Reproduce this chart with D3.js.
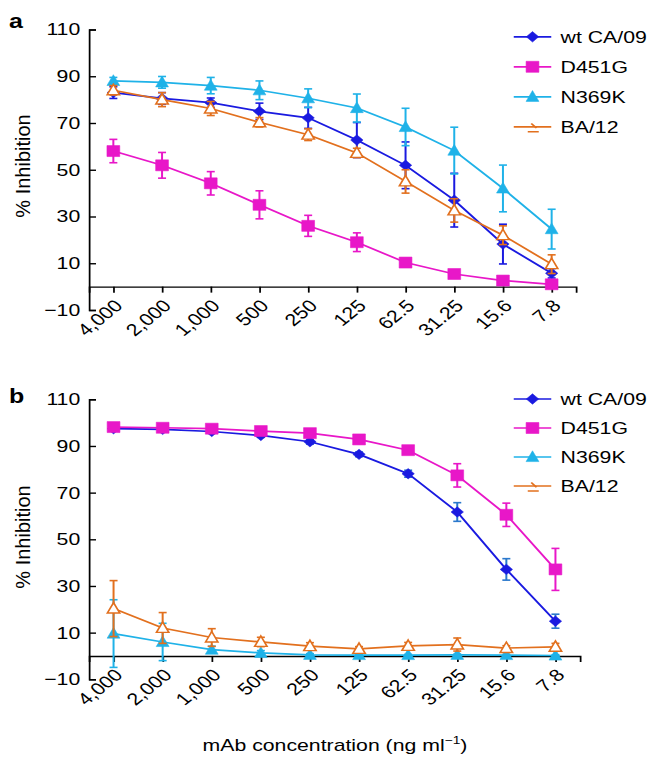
<!DOCTYPE html>
<html lang="en">

<head>
    <meta charset="UTF-8">
    <title>mAb inhibition</title>
    <style>
        body {
            margin: 0;
            background: #fff;
        }

        text {
            font-family: "Liberation Sans", Arial, Helvetica, sans-serif;
            fill: #000;
        }
    </style>
</head>

<body>
    <div id="chart"></div>
    <script src="https://d3js.org/d3.v7.min.js"></script>
    <script>
        // categories and legend
        const concentrations = ["4,000", "2,000", "1,000", "500", "250", "125", "62.5", "31.25", "15.6", "7.8"];
        const seriesNames = ["wt CA/09", "D451G", "N369K", "BA/12"];
        const yTicks = [-10, 10, 30, 50, 70, 90, 110];

        // panel a values (mean, error)
        const aWt = [83, 80.5, 78.7, 75, 72.2, 62.7, 51.9, 37, 18.2, 5.7];
        const aWtErr = [2.5, 2.5, 2, 3.5, 4.5, 7.5, 10, 11.5, 8.5, 2];
        const aD451G = [58, 51.9, 44.2, 35, 26, 19, 10.3, 5.4, 2.6, 1];
        const aD451GErr = [5, 5.5, 5, 6, 4.5, 4, 1, 1, 0.8, 0.5];
        const aN369K = [88, 87.4, 86, 84, 80.6, 76.4, 68.3, 58.2, 42, 24.6];
        const aN369KErr = [1.5, 2.5, 3.5, 4, 4, 6, 8, 10, 10, 8.5];
        const aBA12 = [84, 80, 76.2, 70.3, 65, 57.2, 45, 32.6, 22, 9.6];
        const aBA12Err = [2, 3, 3, 2, 2.5, 2, 5, 5, 4, 4];

        // panel b values (mean, error)
        const bWt = [97.4, 97.1, 96.2, 94.5, 91.8, 86.4, 78.1, 61.7, 37.1, 14.9];
        const bWtErr = [0.5, 0.5, 0.8, 0.8, 1, 1, 1.5, 4, 4.6, 3];
        const bD451G = [98.1, 97.8, 97.4, 96.4, 95.5, 92.8, 88.2, 77.4, 60.5, 37.1];
        const bD451GErr = [0.5, 0.5, 0.5, 0.5, 0.8, 1, 1, 5, 5, 9];
        const bN369K = [9.6, 6, 2.7, 1.3, 0.5, 0.4, 0.4, 0.5, 0.4, 0.2];
        const bN369KErr = [14.5, 8, 1.5, 1, 0.5, 0.3, 0.3, 0.3, 0.3, 0.3];
        const bBA12 = [20.3, 12, 7.9, 6, 4.2, 3, 4.3, 4.9, 3.4, 3.9];
        const bBA12Err = [12, 6.6, 3.8, 2, 1.5, 1, 1.5, 2.8, 1, 1.5];

        const colors = ["#1a1ae0", "#e817c8", "#1fb2e8", "#e2701e"];

        // the original figure is stretched horizontally, so draw in a narrower
        // box and let the viewBox widen it
        const SX = 1.25;
        const W = 649 / SX;
        const H = 760;

        const svg = d3.select("#chart")
            .append("svg")
            .attr("width", 649)
            .attr("height", H)
            .attr("viewBox", `0 0 ${W} ${H}`)
            .attr("preserveAspectRatio", "none");

        // marker shapes
        function diamond(s) {
            return `M0,${-s}L${s * 0.95},0L0,${s}L${-s * 0.95},0Z`;
        }
        function square(s) {
            return `M${-s * 0.93},${-s}H${s * 0.93}V${s}H${-s * 0.93}Z`;
        }
        function triangle(s) {
            return `M0,${-s * 1.15}L${s * 0.95},${s * 0.85}H${-s * 0.95}Z`;
        }
        const markers = [
            { path: diamond(5.2), fill: true },
            { path: square(5.5), fill: true },
            { path: triangle(5.4), fill: true },
            { path: triangle(5.2), fill: false }
        ];
        // the BA/12 legend glyph is a broken triangle in the original
        const brokenTriangle = "M-1,-3.4L3.2,1.2M-3.8,5H5";

        function drawPanel(p) {
            const x = d3.scalePoint()
                .domain(concentrations)
                .range([89 / SX, p.right / SX])
                .padding(0.5);

            const y = d3.scaleLinear()
                .domain([-10, 110])
                .range([p.bottom, p.top]);

            const g = svg.append("g");

            // y axis, ticks point inward
            const yAxis = g.append("g")
                .attr("transform", `translate(${89 / SX},0)`)
                .call(d3.axisLeft(y).tickValues(yTicks).tickSize(-5.6).tickPadding(7));
            yAxis.selectAll("path, line").attr("stroke", "#000").attr("stroke-width", 1.4);
            yAxis.selectAll("text")
                .attr("font-size", 17)
                .attr("font-family", "Liberation Sans, Arial, sans-serif");

            // x axis along zero
            const xAxis = g.append("g")
                .attr("transform", `translate(0,${y(0)})`)
                .call(d3.axisBottom(x).tickSize(6).tickSizeOuter(6));
            xAxis.selectAll("path, line").attr("stroke", "#000").attr("stroke-width", 1.4);
            xAxis.selectAll("text")
                .attr("font-size", 17)
                .attr("font-family", "Liberation Sans, Arial, sans-serif")
                .attr("text-anchor", "end")
                .attr("x", 0)
                .attr("y", 0)
                .attr("dy", "0.35em")
                .attr("transform", "translate(3.6,16) rotate(-45)");

            // panel letter
            g.append("text")
                .attr("x", 9 / SX)
                .attr("y", p.letterY)
                .attr("font-size", 20)
                .attr("font-weight", "bold")
                .text(p.letter);

            // y label
            g.append("text")
                .attr("transform", `translate(${23 / SX},${p.labelY}) rotate(-90) scale(1,${1 / SX})`)
                .attr("text-anchor", "middle")
                .attr("dy", "0.35em")
                .attr("font-size", 20)
                .text("% Inhibition");

            const line = d3.line()
                .x((d, i) => x(concentrations[i]))
                .y(d => y(d));

            p.series.forEach((vals, s) => {
                const errs = p.errors[s];
                const col = colors[s];
                const errCol = p.errColors[s] || col;
                const sg = g.append("g");

                // error bars
                const eb = sg.selectAll(".err")
                    .data(vals)
                    .enter()
                    .append("g")
                    .attr("stroke", errCol)
                    .attr("stroke-width", 1.6);
                eb.append("line")
                    .attr("x1", (d, i) => x(concentrations[i]))
                    .attr("x2", (d, i) => x(concentrations[i]))
                    .attr("y1", (d, i) => y(d - errs[i]))
                    .attr("y2", (d, i) => y(d + errs[i]));
                eb.append("line")
                    .attr("x1", (d, i) => x(concentrations[i]) - 3.2)
                    .attr("x2", (d, i) => x(concentrations[i]) + 3.2)
                    .attr("y1", (d, i) => y(d + errs[i]))
                    .attr("y2", (d, i) => y(d + errs[i]));
                eb.append("line")
                    .attr("x1", (d, i) => x(concentrations[i]) - 3.2)
                    .attr("x2", (d, i) => x(concentrations[i]) + 3.2)
                    .attr("y1", (d, i) => y(d - errs[i]))
                    .attr("y2", (d, i) => y(d - errs[i]));

                sg.append("path")
                    .datum(vals)
                    .attr("d", line)
                    .attr("fill", "none")
                    .attr("stroke", col)
                    .attr("stroke-width", 1.7);

                sg.selectAll(".mk")
                    .data(vals)
                    .enter()
                    .append("path")
                    .attr("transform", (d, i) => `translate(${x(concentrations[i])},${y(d)})`)
                    .attr("d", markers[s].path)
                    .attr("fill", markers[s].fill ? col : "#fff")
                    .attr("stroke", col)
                    .attr("stroke-width", markers[s].fill ? 0.5 : 1.4);
            });

            // legend
            const leg = g.selectAll(".legend")
                .data(seriesNames)
                .enter()
                .append("g")
                .attr("transform", (d, i) => `translate(411, ${p.legendY + i * p.legendStep})`);
            leg.append("line")
                .attr("x1", 0)
                .attr("x2", 30)
                .attr("stroke", (d, i) => colors[i])
                .attr("stroke-width", 1.7);
            leg.append("path")
                .attr("transform", "translate(15,0)")
                .attr("d", (d, i) => i === 3 ? brokenTriangle : markers[i].path)
                .attr("fill", (d, i) => i === 3 ? "none" : colors[i])
                .attr("stroke", (d, i) => colors[i])
                .attr("stroke-width", (d, i) => i === 3 ? 1.5 : 0.5);
            leg.append("text")
                .attr("x", 37.5)
                .attr("dy", "0.35em")
                .attr("font-size", 17)
                .text(d => d);
        }

        drawPanel({
            letter: "a", letterY: 28, top: 29.5, bottom: 310, right: 576, labelY: 166,
            legendY: 36.8, legendStep: 30,
            series: [aWt, aD451G, aN369K, aBA12],
            errors: [aWtErr, aD451GErr, aN369KErr, aBA12Err],
            errColors: []
        });

        drawPanel({
            letter: "b", letterY: 403, top: 399.3, bottom: 679.3, right: 580, labelY: 537,
            legendY: 399, legendStep: 29,
            series: [bWt, bD451G, bN369K, bBA12],
            errors: [bWtErr, bD451GErr, bN369KErr, bBA12Err],
            errColors: ["#2a78cc"]
        });

        // shared x axis title
        const title = svg.append("text")
            .attr("x", 335 / SX)
            .attr("y", 751)
            .attr("text-anchor", "middle")
            .attr("font-size", 17);
        title.append("tspan").text("mAb concentration (ng ml");
        title.append("tspan").attr("dy", -7).attr("font-size", 11).text("\u22121");
        title.append("tspan").attr("dy", 7).text(")");
    </script>
</body>

</html>
